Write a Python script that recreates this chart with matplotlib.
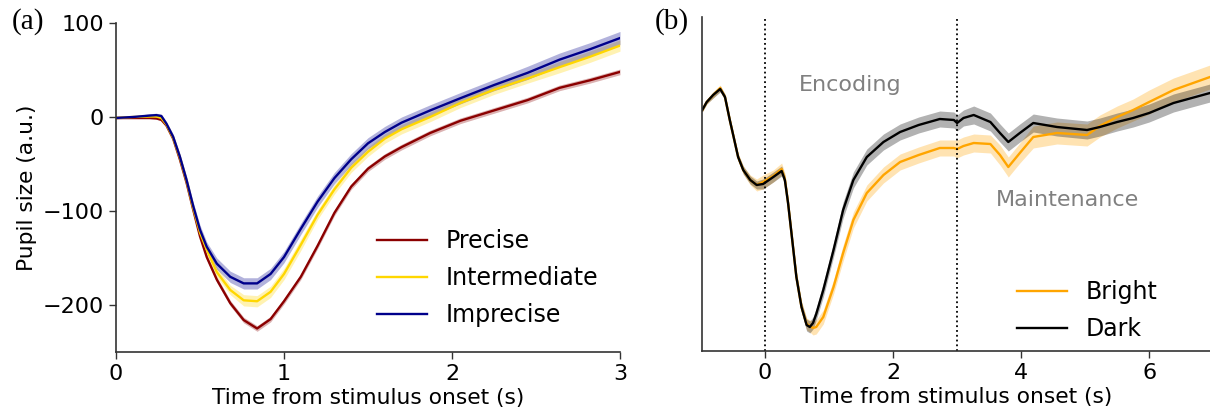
import matplotlib
matplotlib.use("Agg")
import matplotlib.pyplot as plt
import numpy as np

# ---------------- Panel (a) data ----------------
t_a = [0.0, 0.1, 0.2, 0.24, 0.27, 0.30, 0.34, 0.38, 0.42, 0.46, 0.50, 0.54, 0.60,
       0.68, 0.76, 0.84, 0.92, 1.0, 1.1, 1.2, 1.3, 1.4, 1.5, 1.6, 1.7, 1.87, 2.05,
       2.25, 2.45, 2.64, 2.82, 3.0]
precise = [-1, -1, -1, -1.5, -3, -9, -23, -45, -70, -99, -127, -149, -173,
           -198, -216, -225, -215, -196, -170, -137, -102, -74, -55, -42, -32, -17, -4,
           7, 18, 31, 39, 48]
intermediate = [-1, 0, 0.5, 0.5, -1, -8, -22, -43, -68, -97, -123, -141, -165,
                -184, -195, -196, -186, -167, -136, -104, -77, -54, -37, -23, -13, 0, 15,
                29, 41, 53, 64, 76]
imprecise = [-1, 0, 1.5, 2, 1, -7, -21, -42, -67, -95, -120, -138, -156,
             -170, -177, -177, -167, -149, -119, -90, -65, -45, -28, -16, -6, 7, 20,
             34, 47, 61, 72, 84]
sem_precise = [1, 1, 1, 1, 1, 1, 2, 2, 2, 3, 3, 3, 3, 3, 3, 3, 3, 3, 3, 3, 3, 3,
               3, 3, 3, 3, 3, 3, 3, 3, 3, 3]
sem_intermediate = [1, 1, 1, 1, 1, 2, 2, 3, 3, 4, 4, 5, 5, 5, 6, 6, 6, 6, 6, 5, 5,
                    5, 5, 5, 5, 5, 5, 5, 5, 6, 6, 6]
sem_imprecise = [1, 1, 2, 2, 2, 2, 3, 3, 4, 4, 5, 5, 6, 6, 6, 6, 6, 6, 6, 6, 6, 6,
                 6, 6, 6, 6, 6, 6, 7, 7, 7, 7]

# ---------------- Panel (b) data ----------------
t_b = [-0.98, -0.91, -0.81, -0.70, -0.625, -0.55, -0.49, -0.42, -0.34, -0.23, -0.13,
       -0.03, 0.13, 0.26, 0.31, 0.36, 0.42, 0.49, 0.57, 0.65, 0.70, 0.75, 0.80, 0.91,
       1.07, 1.22, 1.38, 1.59, 1.85, 2.11, 2.4, 2.73, 2.95, 3.0, 3.1, 3.26, 3.52, 3.67,
       3.8, 3.98, 4.19, 4.56, 5.03, 5.23, 5.5, 5.75, 6.0, 6.38, 6.95]
dark = [241, 249, 256, 262, 254, 231, 214, 194, 181, 171, 166,
        167, 174, 180, 171, 148, 114, 74, 44, 26, 24, 28, 37, 61,
        101, 141, 171, 194, 209, 219, 226, 232, 231, 228, 233, 236, 229, 218,
        209, 218, 228, 224, 221, 224, 229, 233, 238, 248, 258]
bright = [241, 249, 256, 263, 254, 231, 214, 194, 181, 171, 166,
          169, 175, 182, 172, 148, 114, 74, 44, 27, 25, 23, 24, 34,
          64, 98, 131, 158, 176, 189, 196, 203, 203, 202, 205, 208, 207, 196,
          184, 198, 214, 218, 216, 225, 234, 241, 249, 261, 274]
sem_dark = [2, 2, 3, 3, 3, 3, 3, 3, 4, 4, 4, 5, 5, 5, 5, 5, 5, 5, 5, 6, 6, 6, 6, 7,
            7, 8, 8, 8, 8, 8, 8, 8, 8, 8, 8, 9, 9, 9, 9, 9, 9, 9, 9, 9, 9, 9, 9, 9, 9]
sem_bright = [2, 2, 3, 3, 3, 3, 3, 4, 4, 5, 6, 7, 6, 6, 6, 6, 6, 6, 6, 6, 6, 7, 7, 7,
              7, 8, 8, 8, 8, 8, 8, 8, 8, 9, 9, 9, 9, 10, 10, 10, 11, 11, 11, 11, 11,
              11, 12, 12, 12]

labels_a = ["Precise", "Intermediate", "Imprecise"]
colors_a = ["#8b0000", "#ffd700", "#00008b"]
labels_b = ["Bright", "Dark"]
colors_b = ["#ffa500", "#000000"]

plt.rcParams['font.family'] = ['DejaVu Sans']
W, H = 1210, 411
fig = plt.figure(figsize=(W / 100, H / 100), dpi=100)

spine_col = "#333333"

def style(ax):
    for sp in ["top", "right"]:
        ax.spines[sp].set_visible(False)
    for sp in ["left", "bottom"]:
        ax.spines[sp].set_color(spine_col)
        ax.spines[sp].set_linewidth(1.2)
    ax.tick_params(labelsize=16, length=5, width=1, color=spine_col)

# ---------- (a) ----------
ax1 = fig.add_axes([116 / W, 1 - 352 / H, (620 - 116) / W, (352 - 23) / H])
for y, s, c, lab in zip([precise, intermediate, imprecise],
                        [sem_precise, sem_intermediate, sem_imprecise],
                        colors_a, labels_a):
    y = np.array(y, float); s = np.array(s, float)
    ax1.fill_between(t_a, y - s, y + s, color=c, alpha=0.3, lw=0)
    ax1.plot(t_a, y, color=c, lw=1.7, label=lab)
ax1.set_xlim(0, 3)
ax1.set_ylim(-250, 100)
ax1.set_xticks([0, 1, 2, 3])
ax1.set_yticks([100, 0, -100, -200])
ax1.set_xlabel("Time from stimulus onset (s)", fontsize=15.7, labelpad=3)
ax1.set_ylabel("Pupil size (a.u.)", fontsize=15.7)
style(ax1)
ax1.legend(loc="upper left", bbox_to_anchor=(377 / W, 1 - 229 / H),
           bbox_transform=fig.transFigure, frameon=False, borderpad=0,
           borderaxespad=0, fontsize=17, handlelength=2.1, handletextpad=0.8,
           labelspacing=0.55)

# ---------- (b) ----------
ax2 = fig.add_axes([702 / W, 1 - 351 / H, (1210 - 702) / W, (351 - 17) / H])
for y, s, c, lab in zip([bright, dark], [sem_bright, sem_dark], colors_b, labels_b):
    y = np.array(y, float); s = np.array(s, float)
    ax2.fill_between(t_b, y - s, y + s, color=c, alpha=0.3, lw=0)
    ax2.plot(t_b, y, color=c, lw=1.7, label=lab)
ax2.axvline(0, color="black", ls=":", lw=1.3)
ax2.axvline(3, color="black", ls=":", lw=1.3)
ax2.set_xlim(-0.984, 6.95)
ax2.set_ylim(0, 334)
ax2.set_xticks([0, 2, 4, 6])
ax2.set_yticks([])
ax2.set_xlabel("Time from stimulus onset (s)", fontsize=15.7, labelpad=3)
style(ax2)
ax2.text(1.33, 266, "Encoding", color="#808080", fontsize=16, ha="center", va="center")
ax2.text(4.72, 151, "Maintenance", color="#808080", fontsize=16, ha="center", va="center")
ax2.legend(loc="upper left", bbox_to_anchor=(1017 / W, 1 - 280 / H),
           bbox_transform=fig.transFigure, frameon=False, borderpad=0,
           borderaxespad=0, fontsize=17, handlelength=2.1, handletextpad=0.8,
           labelspacing=0.55)

fig.text(12 / W, 1 - 22 / H, "(a)", fontsize=21, family="Liberation Serif", va="center")
fig.text(655 / W, 1 - 22 / H, "(b)", fontsize=21, family="Liberation Serif", va="center")

fig.savefig("out.png", dpi=100)
